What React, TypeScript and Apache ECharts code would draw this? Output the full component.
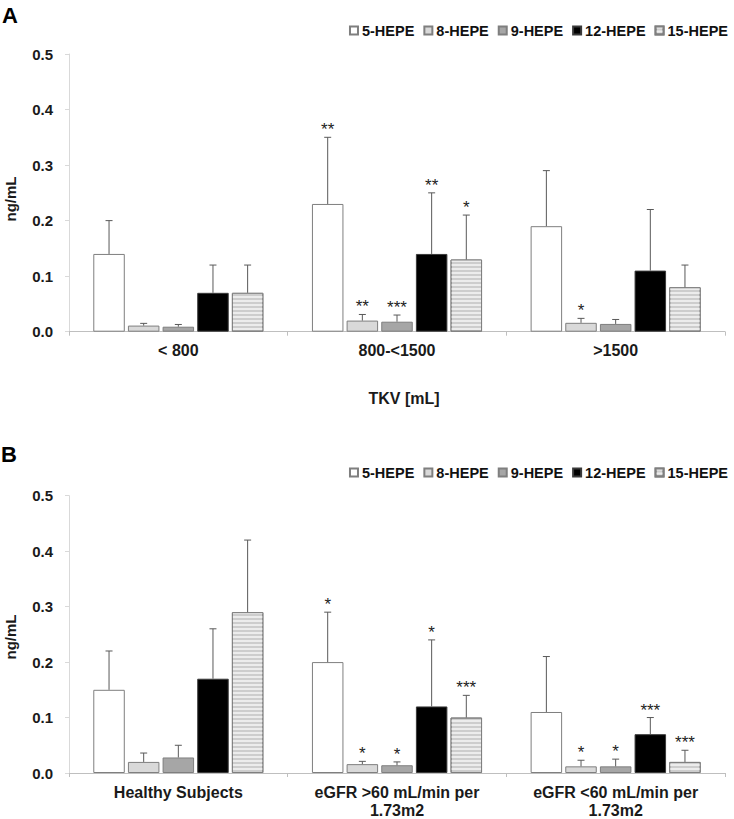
import React, { useEffect, useRef } from "react";
import * as echarts from "echarts";

const categoriesA = ["< 800", "800-<1500", ">1500"];
const categoriesB = ["Healthy Subjects", "eGFR >60 mL/min per\n1.73m2", "eGFR <60 mL/min per\n1.73m2"];
const seriesNames = ["5-HEPE", "8-HEPE", "9-HEPE", "12-HEPE", "15-HEPE"];

// Panel A means
const meanA_5 = [0.14, 0.23, 0.19];
const meanA_8 = [0.011, 0.02, 0.016];
const meanA_9 = [0.009, 0.018, 0.014];
const meanA_12 = [0.07, 0.14, 0.11];
const meanA_15 = [0.07, 0.13, 0.08];
// Panel A error-bar tops (mean + SD)
const errA_5 = [0.2, 0.35, 0.29];
const errA_8 = [0.015, 0.031, 0.024];
const errA_9 = [0.013, 0.03, 0.022];
const errA_12 = [0.12, 0.25, 0.22];
const errA_15 = [0.12, 0.21, 0.12];
// Panel A significance marks
const sigA_5 = ["", "**", ""];
const sigA_8 = ["", "**", "*"];
const sigA_9 = ["", "***", ""];
const sigA_12 = ["", "**", ""];
const sigA_15 = ["", "*", ""];

// Panel B means
const meanB_5 = [0.15, 0.2, 0.11];
const meanB_8 = [0.02, 0.016, 0.012];
const meanB_9 = [0.028, 0.014, 0.012];
const meanB_12 = [0.17, 0.12, 0.07];
const meanB_15 = [0.29, 0.1, 0.02];
// Panel B error-bar tops
const errB_5 = [0.22, 0.29, 0.21];
const errB_8 = [0.036, 0.021, 0.023];
const errB_9 = [0.05, 0.02, 0.025];
const errB_12 = [0.26, 0.24, 0.1];
const errB_15 = [0.42, 0.14, 0.041];
// Panel B significance marks
const sigB_5 = ["", "*", ""];
const sigB_8 = ["", "*", "*"];
const sigB_9 = ["", "*", "*"];
const sigB_12 = ["", "*", "***"];
const sigB_15 = ["", "***", "***"];

const meansA = [meanA_5, meanA_8, meanA_9, meanA_12, meanA_15];
const errsA = [errA_5, errA_8, errA_9, errA_12, errA_15];
const sigsA = [sigA_5, sigA_8, sigA_9, sigA_12, sigA_15];
const meansB = [meanB_5, meanB_8, meanB_9, meanB_12, meanB_15];
const errsB = [errB_5, errB_8, errB_9, errB_12, errB_15];
const sigsB = [sigB_5, sigB_8, sigB_9, sigB_12, sigB_15];

const FONT = "'Liberation Sans', Arial, sans-serif";
const BAR_W = 31.5;
const GAP = 3.15;
const STEP = BAR_W + GAP;

const fills = ["#ffffff", "#d9d9d9", "#a6a6a6", "#000000", "#cdcdcd"];
const borders = ["#7f7f7f", "#7f7f7f", "#7f7f7f", "#3a3a3a", "#7f7f7f"];

function barSeries(means: number[][], axisIdx: number) {
  return means.map((vals, i) => ({
    type: "bar",
    name: seriesNames[i],
    xAxisIndex: axisIdx,
    yAxisIndex: axisIdx,
    data: vals,
    barWidth: BAR_W,
    barGap: "10%",
    itemStyle: {
      color: fills[i],
      borderColor: borders[i],
      borderWidth: 1,
      decal:
        i === 4
          ? {
              symbol: "rect",
              symbolSize: 1,
              dashArrayX: [10, 0],
              dashArrayY: [1.5, 1.5],
              rotation: 0,
              color: "#ececec",
            }
          : undefined,
    },
  }));
}

function errSeries(means: number[][], errs: number[][], sigs: string[][], axisIdx: number) {
  const data: number[][] = [];
  means.forEach((vals, s) => {
    vals.forEach((m, c) => {
      data.push([c, s, errs[s][c], m]);
    });
  });
  return {
    type: "custom",
    xAxisIndex: axisIdx,
    yAxisIndex: axisIdx,
    encode: { x: 0, y: 2 },
    z: 10,
    data,
    renderItem: (params: any, api: any) => {
      const c = api.value(0);
      const s = api.value(1);
      const top = api.value(2);
      const mean = api.value(3);
      const pm = api.coord([c, mean]);
      const pt = api.coord([c, top]);
      const x = pm[0] + (s - 2) * STEP;
      const sig = sigs[s][c];
      const children: any[] = [
        {
          type: "line",
          shape: { x1: x, y1: pm[1], x2: x, y2: pt[1] },
          style: { stroke: "#595959", lineWidth: 1 },
        },
        {
          type: "line",
          shape: { x1: x - 3.5, y1: pt[1], x2: x + 3.5, y2: pt[1] },
          style: { stroke: "#595959", lineWidth: 1 },
        },
      ];
      if (sig) {
        children.push({
          type: "text",
          style: {
            text: sig,
            x: x,
            y: pt[1] + 1,
            align: "center",
            verticalAlign: "bottom",
            fontSize: 17,
            fontFamily: FONT,
            fill: "#222",
          },
        });
      }
      return { type: "group", children };
    },
  };
}

function xAxis(cats: string[], gridIndex: number) {
  return {
    type: "category",
    gridIndex,
    data: cats,
    axisLine: { lineStyle: { color: "#bfbfbf", width: 1 } },
    axisTick: { show: true, length: 4, lineStyle: { color: "#bfbfbf" } },
    axisLabel: {
      color: "#1a1a1a",
      fontSize: 16,
      fontWeight: "bold",
      fontFamily: FONT,
      margin: 10,
      lineHeight: 18,
      interval: 0,
    },
  };
}

function yAxis(gridIndex: number) {
  return {
    type: "value",
    gridIndex,
    min: 0,
    max: 0.5,
    interval: 0.1,
    axisLine: { show: true, lineStyle: { color: "#d9d9d9", width: 1 } },
    axisTick: { show: true, length: 4, lineStyle: { color: "#d9d9d9" } },
    splitLine: { show: false },
    axisLabel: {
      color: "#1a1a1a",
      fontSize: 15,
      fontWeight: "bold",
      fontFamily: FONT,
      margin: 16,
      formatter: (v: number) => v.toFixed(1),
    },
  };
}

function legend(top: number) {
  return {
    data: seriesNames,
    right: 1,
    top,
    icon: "rect",
    itemWidth: 8,
    itemHeight: 8,
    itemGap: 9,
    selectedMode: false,
    textStyle: {
      fontSize: 14.5,
      fontWeight: "bold",
      fontFamily: FONT,
      color: "#111",
      padding: [0, 0, 0, -1],
    },
  };
}

export default function App() {
  const ref = useRef<HTMLDivElement>(null);
  useEffect(() => {
    if (!ref.current) return;
    const chart = echarts.init(ref.current, null, { renderer: "svg" });
    chart.setOption({
      animation: false,
      backgroundColor: "#ffffff",
      grid: [
        { left: 69, top: 54, width: 656, height: 277.7 },
        { left: 69, top: 495.7, width: 656, height: 277.3 },
      ],
      legend: [legend(18), legend(460)],
      xAxis: [xAxis(categoriesA, 0), xAxis(categoriesB, 1)],
      yAxis: [yAxis(0), yAxis(1)],
      series: [
        ...barSeries(meansA, 0),
        errSeries(meansA, errsA, sigsA, 0),
        ...barSeries(meansB, 1),
        errSeries(meansB, errsB, sigsB, 1),
      ],
      graphic: [
        {
          type: "text",
          left: 2,
          top: 4,
          style: { text: "A", fontSize: 22, fontWeight: "bold", fontFamily: FONT, fill: "#000" },
        },
        {
          type: "text",
          left: 1,
          top: 443,
          style: { text: "B", fontSize: 22, fontWeight: "bold", fontFamily: FONT, fill: "#000" },
        },
        {
          type: "text",
          x: 10,
          y: 199,
          rotation: Math.PI / 2,
          style: {
            text: "ng/mL",
            align: "center",
            verticalAlign: "middle",
            fontSize: 15,
            fontWeight: "bold",
            fontFamily: FONT,
            fill: "#1a1a1a",
          },
        },
        {
          type: "text",
          x: 10,
          y: 637,
          rotation: Math.PI / 2,
          style: {
            text: "ng/mL",
            align: "center",
            verticalAlign: "middle",
            fontSize: 15,
            fontWeight: "bold",
            fontFamily: FONT,
            fill: "#1a1a1a",
          },
        },
        {
          type: "text",
          x: 404,
          y: 398,
          style: {
            text: "TKV [mL]",
            align: "center",
            verticalAlign: "middle",
            fontSize: 16,
            fontWeight: "bold",
            fontFamily: FONT,
            fill: "#1a1a1a",
          },
        },
      ],
    });
    return () => chart.dispose();
  }, []);
  return (
    <div
      ref={ref}
      style={{ position: "fixed", left: 0, top: 0, width: 734, height: 819, background: "#fff" }}
    />
  );
}
